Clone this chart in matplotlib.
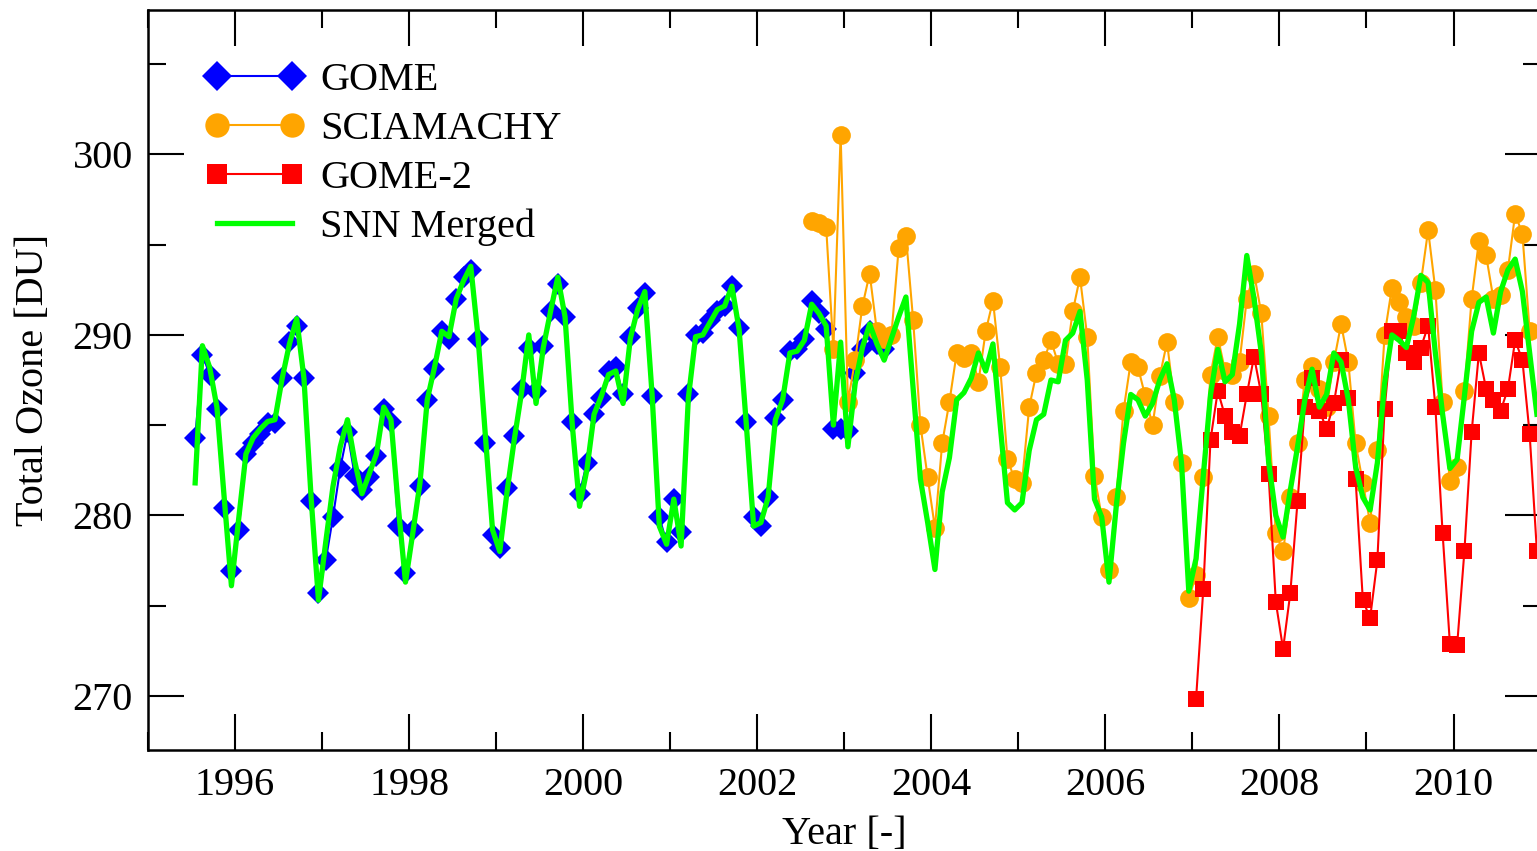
import numpy as np
import matplotlib
matplotlib.use('Agg')
import matplotlib.pyplot as plt
from matplotlib.ticker import MultipleLocator

plt.rcParams['font.family'] = ['Liberation Serif', 'DejaVu Serif']

# monthly mean total ozone [DU]; each series starts at (year, month)
gome_start = (1995, 7)
gome = [284.3, 288.9, 287.8, 285.9, 280.4, 276.9,
        279.2, 283.4, 284.0, 284.5, 285.1, 285.1, 287.6, 289.6, 290.5, 287.6, 280.8, 275.7,
        277.5, 279.9, 282.6, 284.6, 282.2, 281.4, 282.1, 283.3, 285.9, 285.2, 279.4, 276.8,
        279.2, 281.6, 286.4, 288.1, 290.2, 289.8, 292.0, 293.2, 293.6, 289.8, 284.0, 278.9,
        278.2, 281.5, 284.4, 287.0, 289.3, 286.9, 289.4, 291.3, 292.8, 291.0, 285.2, 281.2,
        282.9, 285.6, 286.5, 288.0, 288.2, 286.7, 289.9, 291.5, 292.3, 286.6, 279.9, 278.5,
        280.9, 279.1, 286.7, 290.0, 290.1, 290.8, 291.3, 291.6, 292.7, 290.4, 285.2, 279.9,
        279.4, 281.0, 285.4, 286.4, 289.1, 289.2, 289.8, 291.9, 291.2, 290.3, 284.8, 284.8,
        284.7, 287.9, 289.2, 290.2, 289.5, 289.2]

scia_start = (2002, 8)
scia = [296.3, 296.2, 296.0, 289.2, 301.1,
        286.3, 288.6, 291.6, 293.4, 290.2, 289.8, 290.0, 294.8, 295.5, 290.8, 285.0, 282.1,
        279.3, 284.0, 286.3, 289.0, 288.7, 289.0, 287.4, 290.2, 291.9, 288.2, 283.1, 282.0,
        281.8, 286.0, 287.9, 288.6, 289.7, 288.4, 288.4, 291.3, 293.2, 289.9, 282.2, 279.9,
        277.0, 281.0, 285.8, 288.5, 288.2, 286.6, 285.0, 287.7, 289.6, 286.3, 282.9, 275.4,
        276.7, 282.1, 287.8, 289.9, 288.0, 287.8, 288.5, 292.0, 293.4, 291.2, 285.5, 279.0,
        278.0, 281.0, 284.0, 287.5, 288.3, 287.0, 286.0, 288.5, 290.6, 288.5, 284.0, 281.8,
        279.6, 283.6, 290.0, 292.6, 291.8, 291.0, 290.5, 292.9, 295.8, 292.5, 286.3, 281.9,
        282.7, 286.9, 292.0, 295.2, 294.4, 292.0, 292.2, 293.6, 296.7, 295.6, 290.2]

gome2_start = (2007, 1)
gome2 = [269.8, 275.9, 284.2, 286.9, 285.5, 284.6, 284.4, 286.7, 288.8, 286.7, 282.3, 275.2,
         272.6, 275.7, 280.8, 286.0, 287.6, 285.8, 284.8, 286.2, 288.6, 286.5, 282.0, 275.3,
         274.3, 277.5, 285.9, 290.2, 290.2, 289.0, 288.5, 289.3, 290.5, 286.0, 279.0, 272.9,
         272.8, 278.0, 284.6, 289.0, 287.0, 286.4, 285.8, 287.0, 289.7, 288.6, 284.5, 278.0]

snn_start = (1995, 7)
snn = [281.8, 289.4, 288.2, 286.0, 281.0, 276.1,
       279.8, 283.4, 284.3, 284.8, 285.2, 285.3, 287.6, 289.5, 290.9, 287.6, 280.9, 275.3,
       278.5, 281.6, 283.8, 285.3, 283.0, 281.2, 282.3, 283.4, 286.0, 285.3, 280.5, 276.3,
       279.0, 281.8, 286.4, 288.2, 290.2, 289.9, 292.0, 293.0, 293.8, 289.9, 284.5, 279.2,
       278.0, 281.3, 284.2, 286.8, 290.0, 286.2, 289.3, 291.3, 293.2, 291.0, 285.0, 280.5,
       282.5, 285.6, 286.6, 287.8, 288.0, 286.2, 289.8, 291.4, 292.4, 286.7, 279.4, 278.4,
       280.9, 278.3, 286.5, 289.9, 290.0, 290.7, 291.4, 291.6, 292.7, 290.3, 285.0, 279.4,
       279.6, 281.0, 285.3, 286.4, 289.0, 289.1, 289.7, 291.7, 291.2, 290.5, 285.0, 289.6,
       283.8, 287.3, 289.3, 290.6, 289.5, 288.6, 289.8, 291.0, 292.1, 287.0, 282.0, 279.6,
       277.0, 281.3, 283.2, 286.4, 286.8, 287.6, 289.0, 288.0, 289.5, 285.0, 280.7, 280.3,
       280.7, 283.6, 285.3, 285.6, 287.5, 287.4, 289.7, 290.1, 291.3, 287.5, 280.9, 279.9,
       276.3, 280.5, 284.0, 286.7, 286.4, 285.5, 286.2, 287.5, 288.4, 286.4, 282.9, 275.8,
       277.6, 282.2, 286.7, 289.2, 287.4, 287.8, 290.6, 294.4, 292.0, 289.0, 283.0, 280.0,
       278.8, 281.4, 283.8, 286.4, 288.1, 286.0, 286.7, 289.0, 288.5, 286.4, 282.7, 281.0,
       280.3, 282.9, 287.3, 290.0, 289.7, 289.3, 291.0, 293.3, 292.9, 289.0, 285.6, 282.6,
       283.1, 286.6, 290.2, 291.8, 292.1, 290.1, 292.4, 293.6, 294.2, 292.4, 289.0, 285.6]


def month_axis(start, values):
    # decimal year at the middle of each month
    year, month = start
    k = np.arange(len(values)) + (month - 1)
    return year + (k + 0.5) / 12.0


fig = plt.figure(figsize=(15.37, 8.51), dpi=100)
ax = fig.add_axes([0.0963, 0.1187, 0.906, 0.8695])

ax.plot(month_axis(gome_start, gome), gome, color='#0000ff', lw=1.5,
        marker='D', ms=11.5, mew=0, label='GOME')
ax.plot(month_axis(scia_start, scia), scia, color='#ffa500', lw=1.5,
        marker='o', ms=13.5, mew=0, label='SCIAMACHY')
ax.plot(month_axis(gome2_start, gome2), gome2, color='#ff0000', lw=1.5,
        marker='s', ms=11.5, mew=0, label='GOME-2')
ax.plot(month_axis(snn_start, snn), snn, color='#00ff00', lw=3.8,
        label='SNN Merged')

ax.set_xlim(1995, 2011)
ax.set_ylim(267, 308)

ax.xaxis.set_major_locator(MultipleLocator(2))
ax.xaxis.set_minor_locator(MultipleLocator(1))
ax.yaxis.set_major_locator(MultipleLocator(10))
ax.yaxis.set_minor_locator(MultipleLocator(5))
ax.tick_params(which='both', direction='in', top=True, right=True,
               width=1.5, labelsize=29)
ax.tick_params(which='major', length=26)
ax.tick_params(which='minor', length=13)
ax.tick_params(axis='x', pad=12)
ax.tick_params(axis='y', pad=11)
for sp in ax.spines.values():
    sp.set_linewidth(1.8)

ax.set_xlabel('Year [-]', fontsize=29, labelpad=9)
ax.set_ylabel('Total Ozone [DU]', fontsize=29, labelpad=15)

ax.legend(loc='upper left', bbox_to_anchor=(0.041, 0.93), frameon=False,
          fontsize=29, numpoints=2, handlelength=2.45, handletextpad=0.4,
          labelspacing=0.29, borderpad=0, borderaxespad=0, markerscale=1.3)

fig.savefig('out.png', dpi=100)
